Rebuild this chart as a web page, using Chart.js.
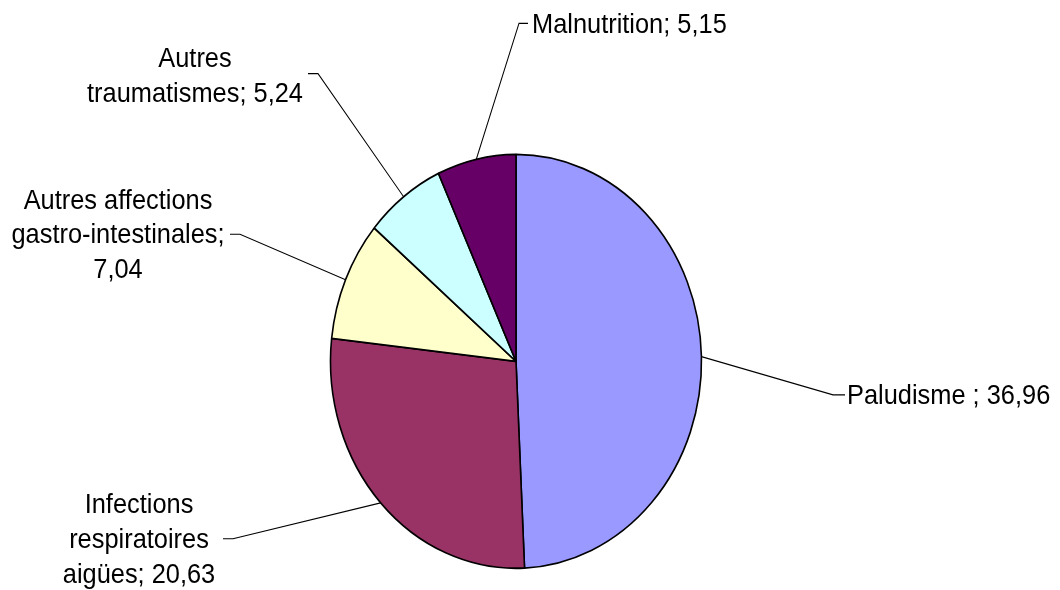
<!DOCTYPE html>
<html>
<head>
<meta charset="utf-8">
<script src="https://cdn.jsdelivr.net/npm/chart.js@4"></script>
<style>
  html, body { margin: 0; padding: 0; background: #fff; overflow: hidden; }
</style>
</head>
<body>
<canvas id="chart" width="1060" height="590"></canvas>
<script>
const categories = ['Paludisme ', 'Infections respiratoires aigües', 'Autres affections gastro-intestinales', 'Autres traumatismes', 'Malnutrition']
const values = [36.96, 20.63, 7.04, 5.24, 5.15]
const colors = ['#9999ff', '#993366', '#ffffcc', '#ccffff', '#660066']

// the original picture is stretched vertically, pie and text alike
const stretchY = 590 / 529

// label placement, canvas px before the stretch
const labelLayout = [
  { align: 'left', x: 847, y: 362, leaderY: 354, tick: [845, 833] },
  { align: 'center', x: 139, y: 460, leaderY: 483, tick: [223, 233] },
  { align: 'center', x: 118, y: 187, leaderY: 210, tick: [230, 240] },
  { align: 'center', x: 195, y: 60, leaderY: 66, tick: [308, 318] },
  { align: 'left', x: 532, y: 30, leaderY: 21, tick: [528, 519] }
]
const lineHeight = 31.3
const wrapWidth = 218
const labelFont = '25.4px "Liberation Sans", Arial, sans-serif'

function fmt(v) {
  return v.toLocaleString('fr-FR', { minimumFractionDigits: 2, maximumFractionDigits: 2 })
}

function wrap(ctx, text) {
  const words = text.split(' ')
  const lines = []
  let cur = ''
  words.forEach(w => {
    const test = cur ? cur + ' ' + w : w
    if (cur && ctx.measureText(test).width > wrapWidth) {
      lines.push(cur)
      cur = w
    } else {
      cur = test
    }
  })
  if (cur) lines.push(cur)
  return lines
}

const labelsPlugin = {
  id: 'pieLabels',
  beforeDraw(chart) {
    chart.ctx.save()
    chart.ctx.scale(1, stretchY)
  },
  afterDraw(chart) {
    const ctx = chart.ctx
    const arcs = chart.getDatasetMeta(0).data
    ctx.save()
    ctx.font = labelFont
    ctx.fillStyle = '#000'
    ctx.strokeStyle = '#000'
    ctx.lineWidth = 1
    arcs.forEach((arc, i) => {
      const lay = labelLayout[i]
      const p = arc.getProps(['x', 'y', 'startAngle', 'endAngle', 'outerRadius'], true)
      const mid = (p.startAngle + p.endAngle) / 2
      const ex = p.x + Math.cos(mid) * p.outerRadius
      const ey = p.y + Math.sin(mid) * p.outerRadius

      ctx.beginPath()
      ctx.moveTo(lay.tick[0], lay.leaderY)
      ctx.lineTo(lay.tick[1], lay.leaderY)
      ctx.lineTo(ex, ey)
      ctx.stroke()

      const text = categories[i] + '; ' + fmt(values[i])
      const lines = wrap(ctx, text)
      ctx.textAlign = lay.align
      ctx.textBaseline = 'alphabetic'
      lines.forEach((ln, k) => ctx.fillText(ln, lay.x, lay.y + k * lineHeight))
    })
    ctx.restore()
    ctx.restore()
  }
}

new Chart(document.getElementById('chart'), {
  type: 'pie',
  data: {
    labels: categories,
    datasets: [{
      data: values,
      backgroundColor: colors,
      borderColor: '#000',
      borderWidth: 1.6
    }]
  },
  options: {
    responsive: false,
    animation: false,
    devicePixelRatio: 1,
    radius: 185.5,
    layout: { padding: { top: 138, bottom: 80, left: 0, right: 28 } },
    events: [],
    plugins: {
      legend: { display: false },
      tooltip: { enabled: false }
    }
  },
  plugins: [labelsPlugin]
})
</script>
</body>
</html>
